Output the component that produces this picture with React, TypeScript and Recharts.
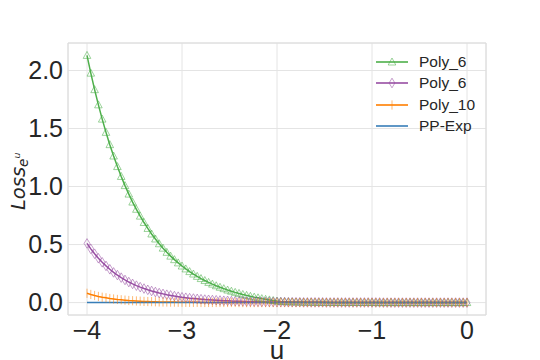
import {
  CartesianGrid,
  Legend,
  Line,
  LineChart,
  ReferenceArea,
  XAxis,
  YAxis,
} from "recharts";

const uValues = [
  -4.0, -3.96, -3.92, -3.88, -3.84, -3.8, -3.76, -3.72, -3.68, -3.64,
  -3.6, -3.56, -3.52, -3.48, -3.44, -3.4, -3.36, -3.32, -3.28, -3.24,
  -3.2, -3.16, -3.12, -3.08, -3.04, -3.0, -2.96, -2.92, -2.88, -2.84,
  -2.8, -2.76, -2.72, -2.68, -2.64, -2.6, -2.56, -2.52, -2.48, -2.44,
  -2.4, -2.36, -2.32, -2.28, -2.24, -2.2, -2.16, -2.12, -2.08, -2.04,
  -2.0, -1.96, -1.92, -1.88, -1.84, -1.8, -1.76, -1.72, -1.68, -1.64,
  -1.6, -1.56, -1.52, -1.48, -1.44, -1.4, -1.36, -1.32, -1.28, -1.24,
  -1.2, -1.16, -1.12, -1.08, -1.04, -1.0, -0.96, -0.92, -0.88, -0.84,
  -0.8, -0.76, -0.72, -0.68, -0.64, -0.6, -0.56, -0.52, -0.48, -0.44,
  -0.4, -0.36, -0.32, -0.28, -0.24, -0.2, -0.16, -0.12, -0.08, -0.04,
  0.0,
];

const poly6Green = [
  2.13, 1.977, 1.835, 1.704, 1.581, 1.467, 1.361, 1.263, 1.172, 1.087,
  1.008, 0.935, 0.866, 0.804, 0.745, 0.69, 0.639, 0.591, 0.548, 0.507,
  0.469, 0.433, 0.4, 0.37, 0.342, 0.315, 0.29, 0.267, 0.246, 0.226,
  0.207, 0.19, 0.174, 0.159, 0.145, 0.132, 0.12, 0.108, 0.098, 0.088,
  0.079, 0.07, 0.062, 0.054, 0.047, 0.041, 0.034, 0.028, 0.023, 0.018,
  0.013, 0.01, 0.008, 0.007, 0.006, 0.005, 0.004, 0.004, 0.003, 0.003,
  0.002, 0.002, 0.002, 0.002, 0.001, 0.001, 0.001, 0.001, 0.001, 0.001,
  0.001, 0.001, 0.001, 0.001, 0.001, 0.001, 0, 0, 0, 0,
  0, 0, 0, 0, 0, 0, 0, 0, 0, 0,
  0, 0, 0, 0, 0, 0, 0, 0, 0, 0,
  0,
];

const poly6Purple = [
  0.51, 0.463, 0.421, 0.382, 0.347, 0.316, 0.287, 0.26, 0.237, 0.215,
  0.195, 0.177, 0.161, 0.146, 0.133, 0.121, 0.11, 0.1, 0.091, 0.082,
  0.075, 0.068, 0.062, 0.056, 0.051, 0.046, 0.042, 0.038, 0.035, 0.032,
  0.029, 0.026, 0.024, 0.022, 0.02, 0.018, 0.016, 0.015, 0.013, 0.012,
  0.011, 0.01, 0.009, 0.008, 0.008, 0.007, 0.006, 0.006, 0.005, 0.005,
  0.004, 0.004, 0.004, 0.003, 0.003, 0.003, 0.003, 0.002, 0.002, 0.002,
  0.002, 0.002, 0.002, 0.001, 0.001, 0.001, 0.001, 0.001, 0.001, 0.001,
  0.001, 0.001, 0.001, 0.001, 0.001, 0.001, 0.001, 0.001, 0, 0,
  0, 0, 0, 0, 0, 0, 0, 0, 0, 0,
  0, 0, 0, 0, 0, 0, 0, 0, 0, 0,
  0,
];

const poly10 = [
  0.08, 0.07, 0.061, 0.053, 0.046, 0.041, 0.035, 0.031, 0.027, 0.024,
  0.021, 0.018, 0.016, 0.014, 0.012, 0.01, 0.009, 0.008, 0.007, 0.006,
  0.005, 0.005, 0.004, 0.004, 0.003, 0.003, 0.002, 0.002, 0.002, 0.002,
  0.001, 0.001, 0.001, 0.001, 0.001, 0.001, 0.001, 0.001, 0.001, 0.001,
  0, 0, 0, 0, 0, 0, 0, 0, 0, 0,
  0, 0, 0, 0, 0, 0, 0, 0, 0, 0,
  0, 0, 0, 0, 0, 0, 0, 0, 0, 0,
  0, 0, 0, 0, 0, 0, 0, 0, 0, 0,
  0, 0, 0, 0, 0, 0, 0, 0, 0, 0,
  0, 0, 0, 0, 0, 0, 0, 0, 0, 0,
  0,
];

const ppExp = [
  0, 0, 0, 0, 0, 0, 0, 0, 0, 0,
  0, 0, 0, 0, 0, 0, 0, 0, 0, 0,
  0, 0, 0, 0, 0, 0, 0, 0, 0, 0,
  0, 0, 0, 0, 0, 0, 0, 0, 0, 0,
  0, 0, 0, 0, 0, 0, 0, 0, 0, 0,
  0, 0, 0, 0, 0, 0, 0, 0, 0, 0,
  0, 0, 0, 0, 0, 0, 0, 0, 0, 0,
  0, 0, 0, 0, 0, 0, 0, 0, 0, 0,
  0, 0, 0, 0, 0, 0, 0, 0, 0, 0,
  0, 0, 0, 0, 0, 0, 0, 0, 0, 0,
  0,
];

const xTicks = [-4, -3, -2, -1, 0];
const yTicks = [0, 0.5, 1, 1.5, 2];
const seriesNames = ["Poly_6", "Poly_6", "Poly_10", "PP-Exp"];

const GREEN = "#4daf4a";
const PURPLE = "#984ea3";
const ORANGE = "#ff7f00";
const BLUE = "#377eb8";
const TEXT = "#262626";
const FONT = "'Liberation Sans', Arial, sans-serif";

const data = uValues.map((u, i) => ({
  u,
  g: poly6Green[i],
  p: poly6Purple[i],
  o: poly10[i],
  b: ppExp[i],
}));

type Marker = "tri" | "diamond" | "vline";

function markerPath(kind: Marker, cx: number, cy: number) {
  if (kind === "tri") {
    return `M${cx},${cy - 4} L${cx + 3.8},${cy + 3} L${cx - 3.8},${cy + 3} Z`;
  }
  if (kind === "diamond") {
    return `M${cx},${cy - 4.8} L${cx + 2.9},${cy} L${cx},${cy + 4.8} L${cx - 2.9},${cy} Z`;
  }
  return `M${cx},${cy - 4.6} L${cx},${cy + 4.6}`;
}

function makeDot(kind: Marker, color: string, prefix: string) {
  return (props: any) => {
    const { cx, cy, index } = props;
    if (cx == null || cy == null) return <g key={`${prefix}-${index}`} />;
    return (
      <path
        key={`${prefix}-${index}`}
        d={markerPath(kind, cx, cy)}
        fill="none"
        stroke={color}
        strokeOpacity={0.55}
        strokeWidth={1}
      />
    );
  };
}

const legendItems: { name: string; color: string; marker: Marker | null }[] = [
  { name: seriesNames[0], color: GREEN, marker: "tri" },
  { name: seriesNames[1], color: PURPLE, marker: "diamond" },
  { name: seriesNames[2], color: ORANGE, marker: "vline" },
  { name: seriesNames[3], color: BLUE, marker: null },
];

function LegendBox() {
  return (
    <div style={{ fontFamily: FONT, fontSize: 15.5, color: TEXT }}>
      {legendItems.map((item, i) => (
        <div
          key={i}
          style={{ display: "flex", alignItems: "center", height: 21.5 }}
        >
          <svg width={34} height={12} style={{ marginRight: 10 }}>
            <line x1={1} x2={33} y1={6} y2={6} stroke={item.color} strokeWidth={1.6} />
            {item.marker && (
              <path
                d={markerPath(item.marker, 17, 6)}
                fill="none"
                stroke={item.color}
                strokeOpacity={0.55}
              />
            )}
          </svg>
          <span>{item.name}</span>
        </div>
      ))}
    </div>
  );
}

function YLabel() {
  return (
    <text
      transform="translate(25,210) rotate(-90)"
      fill={TEXT}
      fontFamily="'DejaVu Sans', sans-serif"
      fontStyle="italic"
    >
      <tspan fontSize={19.5}>Loss</tspan>
      <tspan fontSize={13.5} dy={2.5}>
        e
      </tspan>
      <tspan fontSize={9.5} dy={-8}>
        u
      </tspan>
    </text>
  );
}

function XLabel() {
  return (
    <text x={277} y={358.5} textAnchor="middle" fill={TEXT} fontFamily={FONT} fontSize={26}>
      u
    </text>
  );
}

const fmtX = (v: number) => (v < 0 ? `\u2212${Math.abs(v)}` : `${v}`);

export default function App() {
  return (
    <div style={{ position: "absolute", left: 0, top: 0, background: "#fff" }}>
      <LineChart
        width={540}
        height={360}
        data={data}
        margin={{ top: 43, right: 54, left: 0, bottom: 0 }}
      >
        <CartesianGrid stroke="#e4e4e4" strokeWidth={1} />
        <ReferenceArea
          x1={-4.2}
          x2={0.2}
          y1={-0.107}
          y2={2.237}
          fill="none"
          stroke="#dcdcdc"
          strokeWidth={1}
        />
        <XAxis
          dataKey="u"
          type="number"
          domain={[-4.2, 0.2]}
          ticks={xTicks}
          interval={0}
          allowDataOverflow
          axisLine={false}
          tickLine={false}
          tickSize={0}
          tickMargin={6}
          height={45}
          tickFormatter={fmtX}
          tick={{ fontSize: 25, fill: TEXT, fontFamily: FONT }}
          label={{ content: () => <XLabel /> }}
        />
        <YAxis
          type="number"
          domain={[-0.107, 2.237]}
          ticks={yTicks}
          interval={0}
          allowDataOverflow
          axisLine={false}
          tickLine={false}
          tickSize={0}
          tickMargin={5}
          width={68}
          tickFormatter={(v: number) => v.toFixed(1)}
          tick={{ fontSize: 25, fill: TEXT, fontFamily: FONT }}
          label={{ content: () => <YLabel /> }}
        />
        <Legend
          layout="vertical"
          align="center"
          verticalAlign="middle"
          wrapperStyle={{ left: 375, top: 51, width: 125, height: 90 }}
          content={() => <LegendBox />}
        />
        <Line
          dataKey="g"
          name={seriesNames[0]}
          stroke={GREEN}
          strokeWidth={1.5}
          dot={makeDot("tri", GREEN, "g")}
          isAnimationActive={false}
        />
        <Line
          dataKey="p"
          name={seriesNames[1]}
          stroke={PURPLE}
          strokeWidth={1.5}
          dot={makeDot("diamond", PURPLE, "p")}
          isAnimationActive={false}
        />
        <Line
          dataKey="o"
          name={seriesNames[2]}
          stroke={ORANGE}
          strokeWidth={1.5}
          dot={makeDot("vline", ORANGE, "o")}
          isAnimationActive={false}
        />
        <Line
          dataKey="b"
          name={seriesNames[3]}
          stroke={BLUE}
          strokeWidth={1.5}
          dot={false}
          isAnimationActive={false}
        />
      </LineChart>
    </div>
  );
}
